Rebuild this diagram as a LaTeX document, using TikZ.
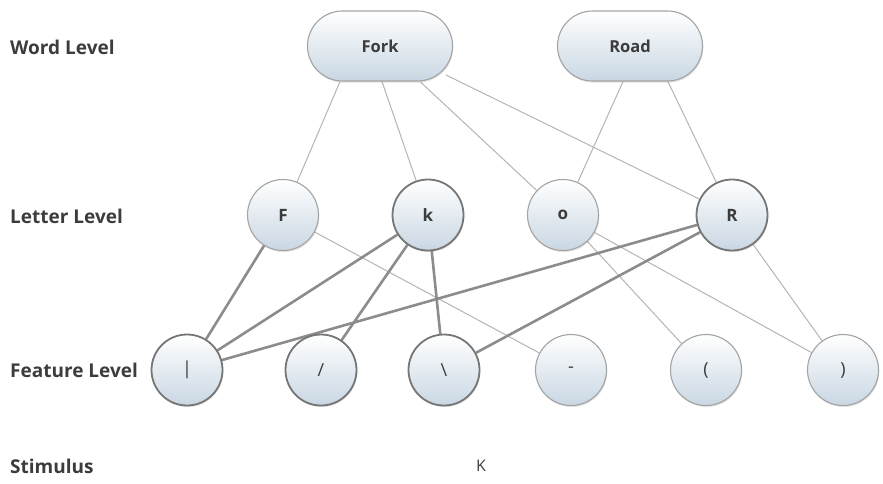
\documentclass[tikz,border=0pt]{standalone}
\usepackage{fontspec}
\setmainfont{Open Sans}
\usetikzlibrary{shapes.misc,shadows,backgrounds,calc}

\definecolor{nodefill}{HTML}{C9D7E3}
\definecolor{rimgray}{HTML}{A3A3A3}
\definecolor{rimdark}{HTML}{767676}
\definecolor{thinline}{HTML}{B4B4B4}
\definecolor{thickline}{HTML}{8C8C8C}
\definecolor{labelgray}{HTML}{3C3C3C}

\begin{document}
\begin{tikzpicture}[x=1pt,y=-1pt,
  glossy/.style={top color=white, bottom color=nodefill, draw=rimgray, line width=1.1pt,
    drop shadow={opacity=0.22, shadow xshift=0.8pt, shadow yshift=-1.6pt},
    text=labelgray, font=\bfseries\fontsize{17}{19}\selectfont, inner sep=0pt},
  unit/.style={glossy, circle, minimum size=71pt},
  feature/.style={unit, font=\fontsize{18}{20}\selectfont},
  active/.style={draw=rimdark, line width=1.8pt},
  wordbox/.style={glossy, rounded rectangle, minimum width=145pt, minimum height=70pt,
    font=\bfseries\fontsize{16.5}{18}\selectfont},
  levellabel/.style={anchor=west, inner sep=0pt, text=labelgray,
    font=\bfseries\fontsize{19}{21}\selectfont},
  weak/.style={draw=thinline, line width=1pt},
  strong/.style={draw=thickline, line width=2.6pt}]
\useasboundingbox (0,0) rectangle (883,483);

% level captions
\node[levellabel] (lw) at (10,47)  {Word Level};
\node[levellabel] (ll) at (10,216) {Letter Level};
\node[levellabel] (lf) at (10,370) {Feature Level};
\node[levellabel] (ls) at (10,466) {Stimulus};

% word units
\node[wordbox] (Fork) at (380,46) {Fork};
\node[wordbox] (Road) at (630,46) {Road};

% letter units
\node[unit] (F) at (283,215) {F};
\node[unit,active] (k) at (428,215) {k};
\node[unit] (o) at (563,215) {o};
\node[unit,active] (R) at (732,215) {R};

% feature units
\node[feature,active] (fv)  at (187,370) {|};
\node[feature,active] (fs)  at (321,370) {/};
\node[feature,active] (fb)  at (444,370) {\textbackslash};
\node[feature] (fh)  at (571,370) {-};
\node[feature] (fl)  at (706,370) {(};
\node[feature] (fr)  at (843,370) {)};

% stimulus
\node[inner sep=0pt, text=labelgray, font=\fontsize{16}{18}\selectfont] (stim) at (481,466) {K};

% connections
\begin{scope}[on background layer]
  \draw[weak] ($(Fork.south)+(-40,0)$) -- (F);
  \draw[weak] ($(Fork.south)+(2,0)$) -- (k);
  \draw[weak] ($(Fork.south)+(40,0)$) -- (o);
  \draw[weak] ($(Fork.center)+(66,29)$) -- (R);
  \draw[weak] ($(Road.south)+(-7,0)$) -- (o);
  \draw[weak] ($(Road.south)+(37,-2)$) -- (R);

  \draw[weak] (F) -- (fh);
  \draw[weak] (o) -- (fl);
  \draw[weak] (o) -- (fr);
  \draw[weak] (R) -- (fr);

  \draw[strong] (F) -- (fv);
  \draw[strong] (k) -- (fv);
  \draw[strong] (k) -- (fs);
  \draw[strong] (k) -- (fb);
  \draw[strong] (R) -- (fv);
  \draw[strong] (R) -- (fb);
\end{scope}
\end{tikzpicture}
\end{document}
